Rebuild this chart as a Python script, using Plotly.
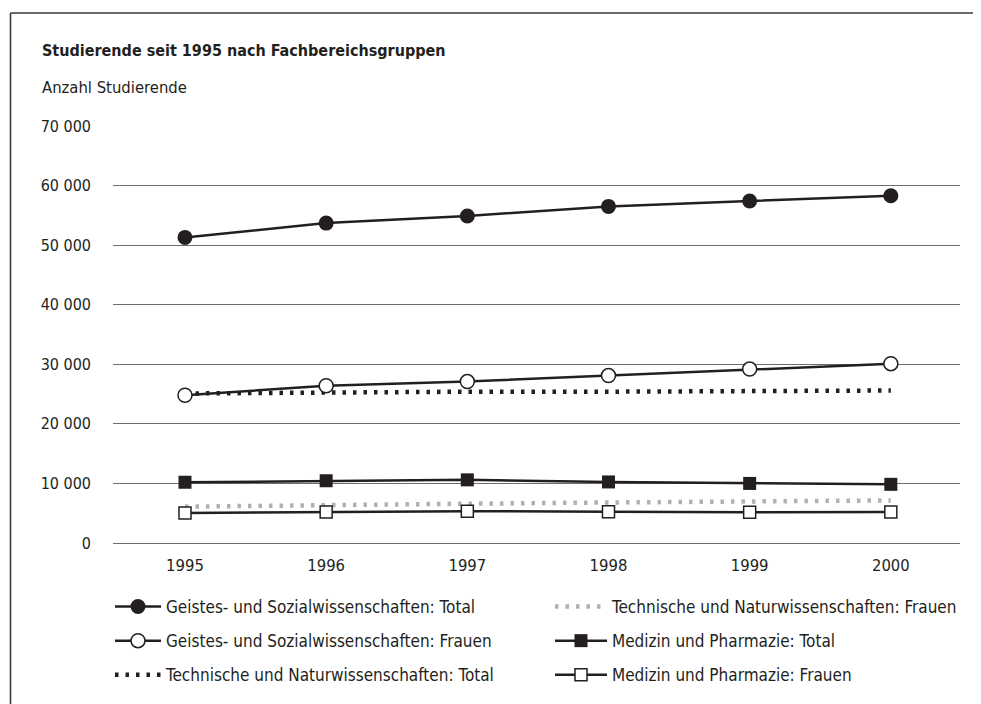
import plotly.graph_objects as go

years = [1995, 1996, 1997, 1998, 1999, 2000]
geistes_total = [51300, 53700, 54900, 56500, 57400, 58300]
geistes_frauen = [24800, 26400, 27100, 28100, 29200, 30100]
technik_total = [25100, 25300, 25400, 25400, 25500, 25600]
technik_frauen = [6100, 6400, 6600, 6800, 6950, 7150]
medizin_total = [10200, 10450, 10600, 10250, 10000, 9850]
medizin_frauen = [5050, 5200, 5350, 5250, 5150, 5200]

y_ticks = [0, 10000, 20000, 30000, 40000, 50000, 60000, 70000]
y_ticktext = ["0", "10 000", "20 000", "30 000", "40 000", "50 000", "60 000", "70 000"]

title = "Studierende seit 1995 nach Fachbereichsgruppen"
subtitle = "Anzahl Studierende"

FONT = "DejaVu Sans Condensed, DejaVu Sans, sans-serif"
INK = "#231f20"
GREY = "#b1b1b3"

OFF = 8  # page body margin
W, H = 981 - OFF, 704 - OFF
L, T = 113 - OFF, 126 - OFF
R = W - (960 - OFF)
B = H - (543 - OFF)
PW = W - L - R
PH = H - T - B


def px_x(px):
    return (px - OFF - L) / PW


def px_y(py):
    return (H - B - (py - OFF)) / PH


fig = go.Figure()

fig.add_trace(go.Scatter(
    x=years, y=technik_total, mode="lines", name="Technische und Naturwissenschaften: Total",
    line=dict(color=INK, width=4.5, dash="3.5px,7px"),
    legend="legend", legendgroup="g3", legendrank=3,
))
fig.add_trace(go.Scatter(
    x=years, y=technik_frauen, mode="lines", name="Technische und Naturwissenschaften: Frauen",
    line=dict(color=GREY, width=4.5, dash="3.5px,7px"),
    legend="legend2", legendgroup="g4", legendrank=4,
))
fig.add_trace(go.Scatter(
    x=years, y=geistes_total, mode="lines+markers", name="Geistes- und Sozialwissenschaften: Total",
    line=dict(color=INK, width=2.5),
    marker=dict(symbol="circle", size=15, color=INK, line=dict(color=INK, width=0)),
    legend="legend", legendgroup="g1", legendrank=1,
))
fig.add_trace(go.Scatter(
    x=years, y=geistes_frauen, mode="lines+markers", name="Geistes- und Sozialwissenschaften: Frauen",
    line=dict(color=INK, width=2.5),
    marker=dict(symbol="circle", size=14, color="white", line=dict(color=INK, width=1.5)),
    legend="legend", legendgroup="g2", legendrank=2,
))
fig.add_trace(go.Scatter(
    x=years, y=medizin_total, mode="lines+markers", name="Medizin und Pharmazie: Total",
    line=dict(color=INK, width=2.5),
    marker=dict(symbol="square", size=13, color=INK, line=dict(color=INK, width=0)),
    legend="legend2", legendgroup="g5", legendrank=5,
))
fig.add_trace(go.Scatter(
    x=years, y=medizin_frauen, mode="lines+markers", name="Medizin und Pharmazie: Frauen",
    line=dict(color=INK, width=2.5),
    marker=dict(symbol="square", size=12, color="white", line=dict(color=INK, width=1.5)),
    legend="legend2", legendgroup="g6", legendrank=6,
))

legend_common = dict(
    orientation="v", traceorder="grouped", tracegroupgap=9,
    font=dict(family=FONT, size=17, color=INK),
    bgcolor="rgba(0,0,0,0)", borderwidth=0,
    xanchor="left", yanchor="top",
)

border = dict(color="#3a3a3a", width=1.6)

fig.update_layout(
    width=W, height=H,
    margin=dict(l=L, r=R, t=T, b=B, autoexpand=False),
    paper_bgcolor="white", plot_bgcolor="white",
    font=dict(family=FONT, size=17, color=INK),
    showlegend=True,
    legend=dict(x=px_x(110), y=px_y(589), itemwidth=46, **legend_common),
    legend2=dict(x=px_x(550), y=px_y(589), itemwidth=52, **legend_common),
    xaxis=dict(
        range=[1994.49, 2000.49], tickvals=years, ticktext=[str(y) for y in years],
        showgrid=False, zeroline=False, showline=False, ticks="",
        tickfont=dict(family=FONT, size=16.5, color=INK), ticklabelstandoff=10,
    ),
    yaxis=dict(
        range=[0, 70000], tickvals=y_ticks, ticktext=y_ticktext,
        showgrid=True, gridcolor="#6d6d6d", gridwidth=1.2,
        zeroline=True, zerolinecolor="#6d6d6d", zerolinewidth=1.2,
        showline=False, ticks="",
        tickfont=dict(family=FONT, size=16, color=INK), ticklabelstandoff=21,
    ),
    annotations=[
        dict(text="<b>" + title + "</b>", x=px_x(40), y=px_y(50), xref="paper", yref="paper",
             xanchor="left", yanchor="middle", showarrow=False,
             font=dict(family=FONT, size=16, color=INK)),
        dict(text=subtitle, x=px_x(40), y=px_y(88), xref="paper", yref="paper",
             xanchor="left", yanchor="middle", showarrow=False,
             font=dict(family=FONT, size=16.5, color=INK)),
    ],
    shapes=[
        dict(type="line", xref="paper", yref="paper",
             x0=px_x(10.5), x1=px_x(990), y0=px_y(13), y1=px_y(13), line=border, layer="above"),
        dict(type="line", xref="paper", yref="paper",
             x0=px_x(10.5), x1=px_x(10.5), y0=px_y(13), y1=px_y(720), line=border, layer="above"),
    ],
)

fig.write_html("out.html")
